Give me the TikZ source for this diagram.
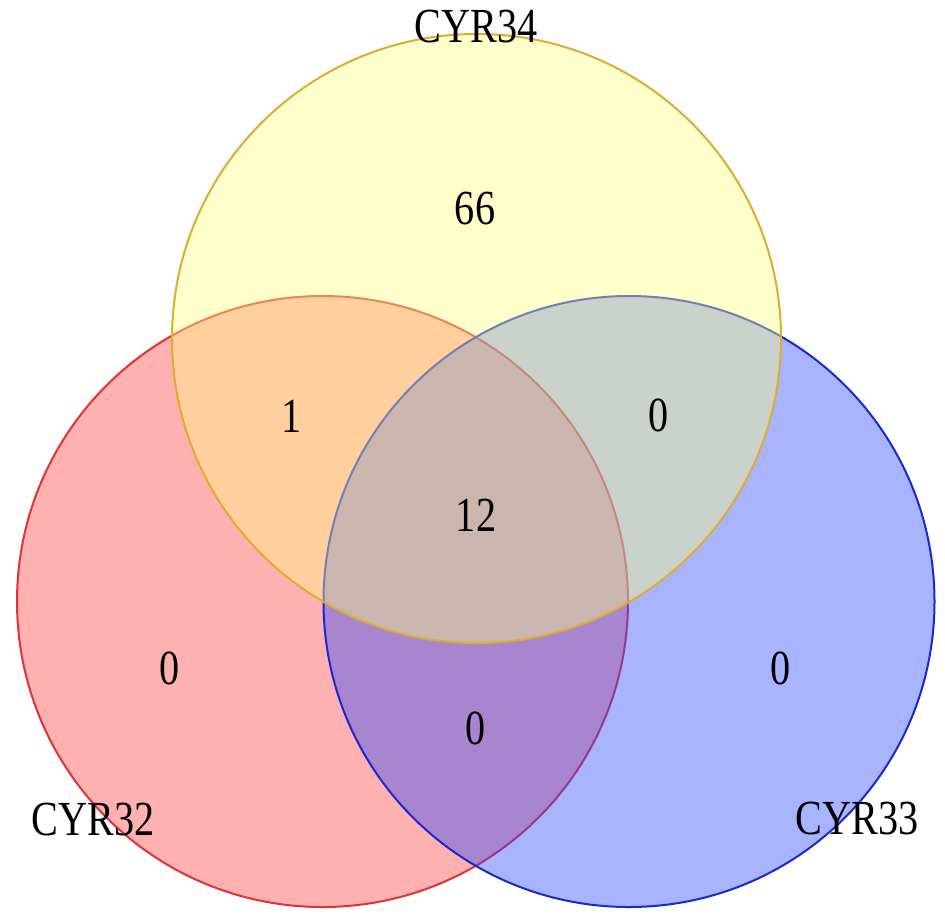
\documentclass[tikz,border=0pt]{standalone}
\usepackage{fontspec}
\setmainfont[FakeStretch=0.82]{Liberation Serif}
\definecolor{redfill}{RGB}{255,60,60}
\definecolor{bluefill}{RGB}{40,70,255}
\definecolor{yellowfill}{RGB}{255,255,129}
\definecolor{redline}{RGB}{225,50,55}
\definecolor{blueline}{RGB}{25,40,210}
\definecolor{yellowline}{RGB}{222,172,48}
\tikzset{
  setcircle/.style={line width=2pt, fill opacity=0.405},
  lbl/.style={inner sep=0pt, font=\fontsize{49}{49}\selectfont, text=black}
}
\begin{document}
\begin{tikzpicture}[x=1pt, y=-1pt]
\useasboundingbox[fill=white] (0,0) rectangle (945,922);
\coordinate (cr) at (322.5,601.5);
\coordinate (cb) at (629,601.5);
\coordinate (cy) at (476.5,338.5);
\draw[setcircle, draw=redline, fill=redfill] (cr) circle[radius=305.5pt];
\draw[setcircle, draw=blueline, fill=bluefill] (cb) circle[radius=305.5pt];
\draw[setcircle, draw=yellowline, fill=yellowfill] (cy) circle[radius=304.5pt];
\node[lbl] (t34) at (476,26.5) {CYR34};
\node[lbl] (t32) at (93,820) {CYR32};
\node[lbl] (t33) at (857,818.5) {CYR33};
\node[lbl] (n66) at (475,208.5) {66};
\node[lbl] (n1) at (292,416.5) {1};
\node[lbl] (n0a) at (659,415) {0};
\node[lbl] (n12) at (476,515) {12};
\node[lbl] (n0b) at (170,668) {0};
\node[lbl] (n0c) at (476,728.5) {0};
\node[lbl] (n0d) at (781,668) {0};
\end{tikzpicture}
\end{document}
